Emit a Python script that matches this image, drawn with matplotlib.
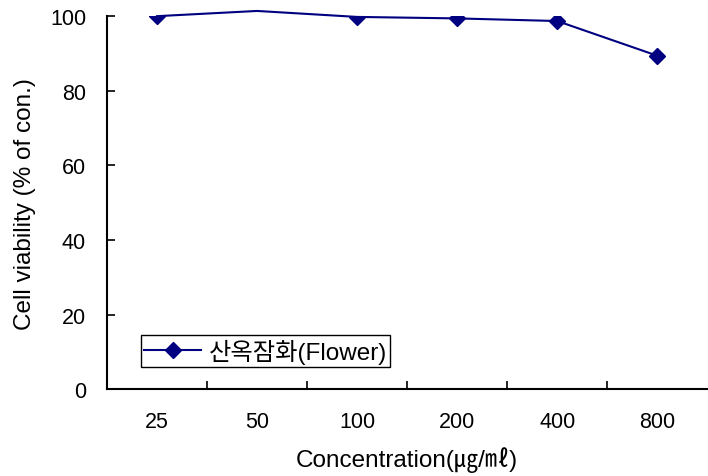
import matplotlib
matplotlib.use('Agg')
import matplotlib.pyplot as plt

plt.rcParams['font.family'] = ['Liberation Sans', 'Noto Sans CJK KR', 'DejaVu Sans']

concentrations = ['25', '50', '100', '200', '400', '800']
viability = [100.0, 101.4, 99.8, 99.4, 98.7, 89.4]
series_name = '산옥잠화(Flower)'


def main():
    fig = plt.figure(figsize=(7.08, 4.77), dpi=100)
    ax = fig.add_axes([0.151, 0.182, 0.848, 0.782])

    x = list(range(len(concentrations)))
    ax.plot(x, viability, color='#000080', lw=1.5, clip_on=False, zorder=3)
    ax.plot(x, viability, color='#000080', lw=0, marker='D', markersize=8,
            markevery=[0, 2, 3, 4, 5], zorder=4)
    # legend handle only
    ax.plot([], [], color='#000080', lw=1.5, marker='D', markersize=8, label=series_name)

    ax.set_xlim(-0.5, len(concentrations) - 0.5)
    ax.set_ylim(0, 100)
    ax.set_yticks(range(0, 101, 20))
    ax.set_xticks(x)
    ax.set_xticklabels(concentrations)
    ax.set_xticks([i + 0.5 for i in x[:-1]], minor=True)
    ax.tick_params(axis='x', which='major', length=0, pad=16, labelsize=15.5)
    ax.tick_params(axis='x', which='minor', direction='in', length=6, width=1.2)
    ax.tick_params(axis='y', direction='in', length=6, width=1.2, labelsize=15.5, pad=15)

    for side in ['top', 'right']:
        ax.spines[side].set_visible(False)
    for side in ['left', 'bottom']:
        ax.spines[side].set_linewidth(1.5)

    ax.set_xlabel('Concentration(㎍/㎖)', fontsize=17.5, labelpad=10)
    ax.set_ylabel('Cell viability (% of con.)', fontsize=17.5, labelpad=10)

    leg = ax.legend(loc='lower left', bbox_to_anchor=(0.056, 0.059), borderaxespad=0,
                    fontsize=17.5, fancybox=False, framealpha=1, edgecolor='black',
                    handlelength=2.35, handletextpad=0.3, borderpad=0.15)
    leg.get_frame().set_linewidth(1.0)

    fig.savefig('out.png', dpi=100)


if __name__ == '__main__':
    main()
